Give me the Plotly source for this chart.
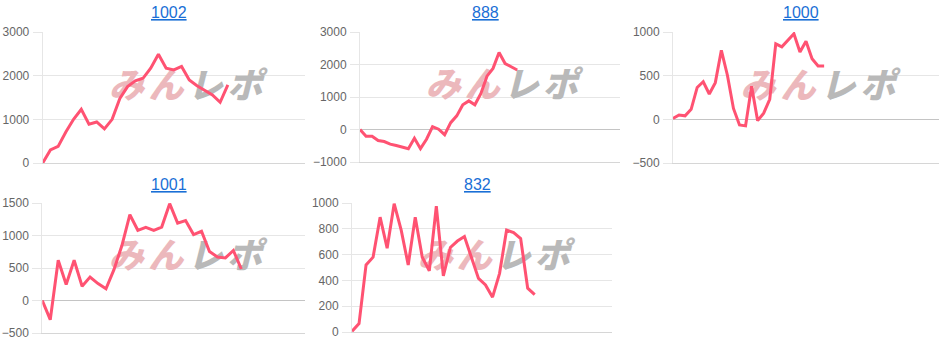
import plotly.graph_objects as go

W, H = 950, 341

titles = ["1002", "888", "1000", "1001", "832"]

s1002 = [0, 300, 380, 710, 1000, 1230, 890, 940, 780, 1000, 1480, 1750, 1880,
         1940, 2170, 2490, 2170, 2130, 2210, 1900, 1770, 1660, 1560, 1390, 1790]
s888 = [0, -210, -210, -340, -370, -450, -490, -550, -590, -270, -590, -300, 90,
        10, -160, 210, 420, 760, 880, 760, 1110, 1640, 1880, 2370, 2030, 1930, 1830]
s1000 = [10, 50, 40, 115, 365, 430, 290, 420, 790, 505, 125, -65, -75, 380, -15,
         70, 230, 865, 830, 910, 980, 770, 895, 695, 610, 610]
s1001 = [0, -295, 620, 245, 620, 220, 360, 260, 180, 475, 845, 1320, 1080, 1125,
         1080, 1130, 1490, 1190, 1230, 1015, 1065, 755, 670, 655, 770, 485]
s832 = [5, 65, 520, 580, 890, 650, 995, 790, 520, 890, 580, 475, 975, 435, 655,
        705, 740, 580, 415, 365, 270, 455, 790, 770, 725, 340, 290]

series = [s1002, s888, s1000, s1001, s832]

# x category slots per chart (last index of axis)
x_slots = [34, 43, 44, 33, 37]
y_ranges = [(0, 3000), (-1000, 3000), (-500, 1000), (-500, 1500), (0, 1000)]
y_dticks = [1000, 1000, 500, 500, 200]

# plot areas in pixels: (left, right, top, bottom)
areas = [
    (42.7, 305, 32, 163),
    (360, 620, 32, 162),
    (673, 939, 32, 163),
    (42.3, 305, 203, 333),
    (352, 612, 203, 332),
]
title_y = [13, 13, 13, 184, 184]

LINE = "#ff5272"
GRID = "#e6e6e6"
ZERO = "#c4c4c4"
TICKFONT = dict(family="Liberation Sans, Arial, sans-serif", size=12, color="#666666")

fig = go.Figure()
layout = dict(
    width=W, height=H,
    margin=dict(l=0, r=0, t=0, b=0, pad=0, autoexpand=False),
    paper_bgcolor="white", plot_bgcolor="white", showlegend=False,
    annotations=[],
)

for i, (vals, n, yr, dt, area) in enumerate(zip(series, x_slots, y_ranges, y_dticks, areas)):
    k = "" if i == 0 else str(i + 1)
    xa, ya = "x" + k, "y" + k
    l, r, t, b = area
    xdom = [l / W, r / W]
    ydom = [1 - b / H, 1 - t / H]

    # watermark (drawn below the line)
    cx = 0.545
    cy = yr[0] + 0.565 * (yr[1] - yr[0])
    offs = [-0.225, -0.075, 0.075, 0.225]
    wx = [n * (cx + o) for o in offs]
    fig.add_trace(go.Scatter(
        x=wx[:2], y=[cy, cy], mode="text", text=["み", "ん"],
        textfont=dict(family="Noto Sans CJK JP", size=35, color="#ecb8bc",
                      weight=900, style="italic"),
        xaxis=xa, yaxis=ya, hoverinfo="skip", cliponaxis=False))
    fig.add_trace(go.Scatter(
        x=wx[2:], y=[cy, cy], mode="text", text=["レ", "ポ"],
        textfont=dict(family="Noto Sans CJK JP", size=35, color="#b9b9b9",
                      weight=900, style="italic"),
        xaxis=xa, yaxis=ya, hoverinfo="skip", cliponaxis=False))

    fig.add_trace(go.Scatter(
        x=list(range(len(vals))), y=vals, mode="lines",
        line=dict(color=LINE, width=3), xaxis=xa, yaxis=ya, hoverinfo="skip"))

    layout["xaxis" + k] = dict(
        domain=xdom, anchor=ya, range=[0, n], showgrid=False, zeroline=False,
        showticklabels=False, ticks="", showline=True, linecolor="#d6d6d6",
        linewidth=1, fixedrange=True, automargin=False)
    layout["yaxis" + k] = dict(
        domain=ydom, anchor=xa, range=list(yr), dtick=dt, tick0=0,
        showgrid=True, gridcolor=GRID, gridwidth=1,
        zeroline=True, zerolinecolor=ZERO, zerolinewidth=1,
        showline=True, linecolor=GRID, linewidth=1,
        ticks="outside", ticklen=9, tickcolor=GRID, tickfont=TICKFONT,
        ticklabelstandoff=1, fixedrange=True, automargin=False)

    layout["annotations"].append(dict(
        text="<u>" + titles[i] + "</u>", xref="paper", yref="paper",
        x=((l + r) / 2 - 5) / W, y=1 - title_y[i] / H, showarrow=False,
        xanchor="center", yanchor="middle",
        font=dict(family="Liberation Sans, Arial, sans-serif", size=16, color="#1a6fd6")))

fig.update_layout(**layout)
fig.write_html("out.html", post_script="document.body.style.margin='0px';")
